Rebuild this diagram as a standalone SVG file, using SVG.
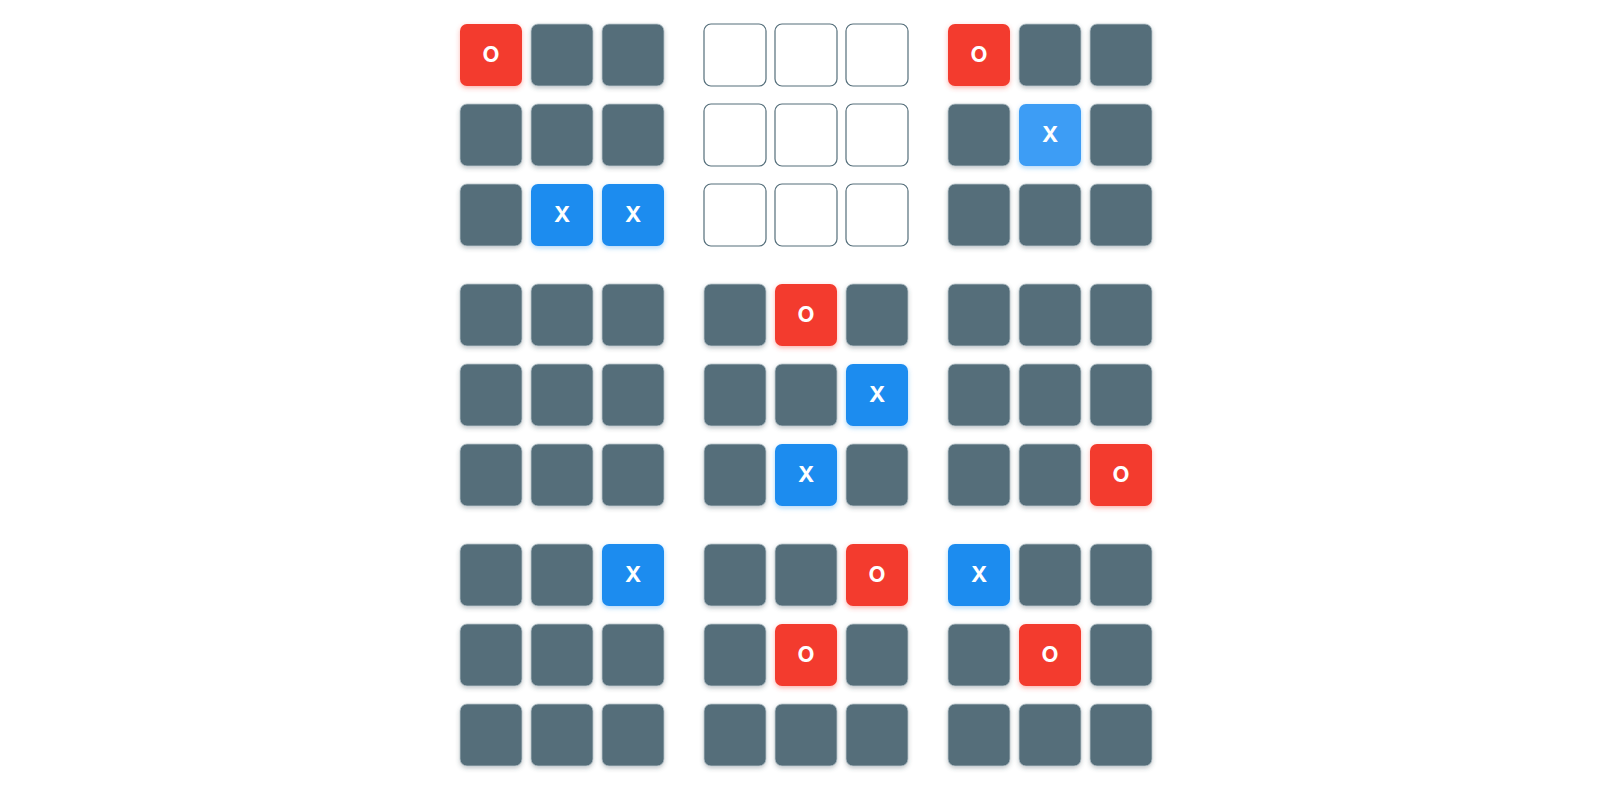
<svg xmlns="http://www.w3.org/2000/svg" xmlns:xlink="http://www.w3.org/1999/xlink" width="1615" height="795" viewBox="0 0 1615 795">
<defs>
<filter id="sg" x="-20%" y="-20%" width="140%" height="150%"><feDropShadow dx="0" dy="2" stdDeviation="2" flood-color="#37474f" flood-opacity="0.3"/></filter>
<filter id="sr" x="-20%" y="-20%" width="140%" height="150%"><feDropShadow dx="0" dy="2" stdDeviation="2.5" flood-color="#f44336" flood-opacity="0.4"/></filter>
<filter id="sb" x="-20%" y="-20%" width="140%" height="150%"><feDropShadow dx="0" dy="2" stdDeviation="2.5" flood-color="#1e88e5" flood-opacity="0.35"/></filter>
<rect id="g" width="62" height="62" rx="7"/>
</defs>
<style>
.e{fill:#546e7a;stroke:#b8c4ca;stroke-width:0.8;filter:url(#sg)}
.o{fill:#f33b2e;filter:url(#sr)}
.x{fill:#1e8cef;filter:url(#sb)}
.xl{fill:#3d9df5;filter:url(#sb)}
.w{fill:#ffffff;stroke:#546e7a;stroke-width:1.2}
text{font-family:Inter,"Open Sans",Roboto,sans-serif;font-weight:700;font-size:22px;fill:#ffffff;text-anchor:middle;dominant-baseline:central}
</style>
<rect width="1615" height="795" fill="#ffffff"/>
<g id="connectors"/>
<!-- Board 1 -->
<g id="board1">
<g id="b1c1"><use href="#g" x="460" y="24" class="o"/><text x="491" y="53.5">O</text></g>
<g id="b1c2"><use href="#g" x="531" y="24" class="e"/></g>
<g id="b1c3"><use href="#g" x="602" y="24" class="e"/></g>
<g id="b1c4"><use href="#g" x="460" y="104" class="e"/></g>
<g id="b1c5"><use href="#g" x="531" y="104" class="e"/></g>
<g id="b1c6"><use href="#g" x="602" y="104" class="e"/></g>
<g id="b1c7"><use href="#g" x="460" y="184" class="e"/></g>
<g id="b1c8"><use href="#g" x="531" y="184" class="x"/><text x="562" y="213.5">X</text></g>
<g id="b1c9"><use href="#g" x="602" y="184" class="x"/><text x="633" y="213.5">X</text></g>
</g>
<!-- Board 2 -->
<g id="board2">
<g id="b2c1"><use href="#g" x="704" y="24" class="w"/></g>
<g id="b2c2"><use href="#g" x="775" y="24" class="w"/></g>
<g id="b2c3"><use href="#g" x="846" y="24" class="w"/></g>
<g id="b2c4"><use href="#g" x="704" y="104" class="w"/></g>
<g id="b2c5"><use href="#g" x="775" y="104" class="w"/></g>
<g id="b2c6"><use href="#g" x="846" y="104" class="w"/></g>
<g id="b2c7"><use href="#g" x="704" y="184" class="w"/></g>
<g id="b2c8"><use href="#g" x="775" y="184" class="w"/></g>
<g id="b2c9"><use href="#g" x="846" y="184" class="w"/></g>
</g>
<!-- Board 3 -->
<g id="board3">
<g id="b3c1"><use href="#g" x="948" y="24" class="o"/><text x="979" y="53.5">O</text></g>
<g id="b3c2"><use href="#g" x="1019" y="24" class="e"/></g>
<g id="b3c3"><use href="#g" x="1090" y="24" class="e"/></g>
<g id="b3c4"><use href="#g" x="948" y="104" class="e"/></g>
<g id="b3c5"><use href="#g" x="1019" y="104" class="xl"/><text x="1050" y="133.5">X</text></g>
<g id="b3c6"><use href="#g" x="1090" y="104" class="e"/></g>
<g id="b3c7"><use href="#g" x="948" y="184" class="e"/></g>
<g id="b3c8"><use href="#g" x="1019" y="184" class="e"/></g>
<g id="b3c9"><use href="#g" x="1090" y="184" class="e"/></g>
</g>
<!-- Board 4 -->
<g id="board4">
<g id="b4c1"><use href="#g" x="460" y="284" class="e"/></g>
<g id="b4c2"><use href="#g" x="531" y="284" class="e"/></g>
<g id="b4c3"><use href="#g" x="602" y="284" class="e"/></g>
<g id="b4c4"><use href="#g" x="460" y="364" class="e"/></g>
<g id="b4c5"><use href="#g" x="531" y="364" class="e"/></g>
<g id="b4c6"><use href="#g" x="602" y="364" class="e"/></g>
<g id="b4c7"><use href="#g" x="460" y="444" class="e"/></g>
<g id="b4c8"><use href="#g" x="531" y="444" class="e"/></g>
<g id="b4c9"><use href="#g" x="602" y="444" class="e"/></g>
</g>
<!-- Board 5 -->
<g id="board5">
<g id="b5c1"><use href="#g" x="704" y="284" class="e"/></g>
<g id="b5c2"><use href="#g" x="775" y="284" class="o"/><text x="806" y="313.5">O</text></g>
<g id="b5c3"><use href="#g" x="846" y="284" class="e"/></g>
<g id="b5c4"><use href="#g" x="704" y="364" class="e"/></g>
<g id="b5c5"><use href="#g" x="775" y="364" class="e"/></g>
<g id="b5c6"><use href="#g" x="846" y="364" class="x"/><text x="877" y="393.5">X</text></g>
<g id="b5c7"><use href="#g" x="704" y="444" class="e"/></g>
<g id="b5c8"><use href="#g" x="775" y="444" class="x"/><text x="806" y="473.5">X</text></g>
<g id="b5c9"><use href="#g" x="846" y="444" class="e"/></g>
</g>
<!-- Board 6 -->
<g id="board6">
<g id="b6c1"><use href="#g" x="948" y="284" class="e"/></g>
<g id="b6c2"><use href="#g" x="1019" y="284" class="e"/></g>
<g id="b6c3"><use href="#g" x="1090" y="284" class="e"/></g>
<g id="b6c4"><use href="#g" x="948" y="364" class="e"/></g>
<g id="b6c5"><use href="#g" x="1019" y="364" class="e"/></g>
<g id="b6c6"><use href="#g" x="1090" y="364" class="e"/></g>
<g id="b6c7"><use href="#g" x="948" y="444" class="e"/></g>
<g id="b6c8"><use href="#g" x="1019" y="444" class="e"/></g>
<g id="b6c9"><use href="#g" x="1090" y="444" class="o"/><text x="1121" y="473.5">O</text></g>
</g>
<!-- Board 7 -->
<g id="board7">
<g id="b7c1"><use href="#g" x="460" y="544" class="e"/></g>
<g id="b7c2"><use href="#g" x="531" y="544" class="e"/></g>
<g id="b7c3"><use href="#g" x="602" y="544" class="x"/><text x="633" y="573.5">X</text></g>
<g id="b7c4"><use href="#g" x="460" y="624" class="e"/></g>
<g id="b7c5"><use href="#g" x="531" y="624" class="e"/></g>
<g id="b7c6"><use href="#g" x="602" y="624" class="e"/></g>
<g id="b7c7"><use href="#g" x="460" y="704" class="e"/></g>
<g id="b7c8"><use href="#g" x="531" y="704" class="e"/></g>
<g id="b7c9"><use href="#g" x="602" y="704" class="e"/></g>
</g>
<!-- Board 8 -->
<g id="board8">
<g id="b8c1"><use href="#g" x="704" y="544" class="e"/></g>
<g id="b8c2"><use href="#g" x="775" y="544" class="e"/></g>
<g id="b8c3"><use href="#g" x="846" y="544" class="o"/><text x="877" y="573.5">O</text></g>
<g id="b8c4"><use href="#g" x="704" y="624" class="e"/></g>
<g id="b8c5"><use href="#g" x="775" y="624" class="o"/><text x="806" y="653.5">O</text></g>
<g id="b8c6"><use href="#g" x="846" y="624" class="e"/></g>
<g id="b8c7"><use href="#g" x="704" y="704" class="e"/></g>
<g id="b8c8"><use href="#g" x="775" y="704" class="e"/></g>
<g id="b8c9"><use href="#g" x="846" y="704" class="e"/></g>
</g>
<!-- Board 9 -->
<g id="board9">
<g id="b9c1"><use href="#g" x="948" y="544" class="x"/><text x="979" y="573.5">X</text></g>
<g id="b9c2"><use href="#g" x="1019" y="544" class="e"/></g>
<g id="b9c3"><use href="#g" x="1090" y="544" class="e"/></g>
<g id="b9c4"><use href="#g" x="948" y="624" class="e"/></g>
<g id="b9c5"><use href="#g" x="1019" y="624" class="o"/><text x="1050" y="653.5">O</text></g>
<g id="b9c6"><use href="#g" x="1090" y="624" class="e"/></g>
<g id="b9c7"><use href="#g" x="948" y="704" class="e"/></g>
<g id="b9c8"><use href="#g" x="1019" y="704" class="e"/></g>
<g id="b9c9"><use href="#g" x="1090" y="704" class="e"/></g>
</g>
</svg>
